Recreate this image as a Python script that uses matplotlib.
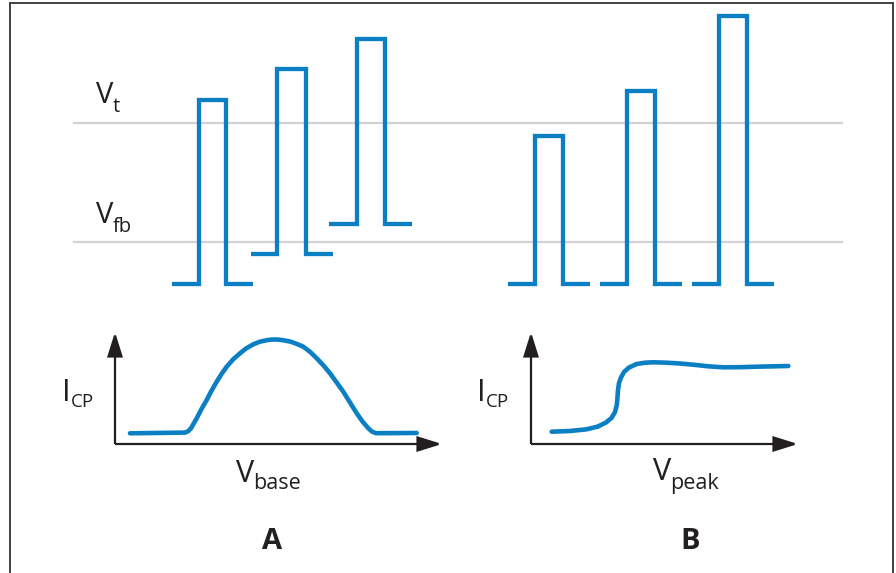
import matplotlib
matplotlib.use("Agg")
import matplotlib.pyplot as plt
from matplotlib.patches import FancyArrowPatch

# --- data (in pixel units of the 896x573 figure) ---
# pulses: (start, rise, fall, end, base level, top level)
pulses_a = [
    (172, 199, 226, 253, 284, 99.5),
    (251, 277, 305.5, 333, 254, 69),
    (329, 357, 384.5, 412, 223.5, 39),
]
pulses_b = [
    (508, 535, 563, 590, 284, 136),
    (600, 627, 655, 682, 284, 90.5),
    (692, 719, 747, 774, 284, 16),
]
level_vt = 123
level_vfb = 242

# I_CP vs V_base (bell-shaped)
curve_a_x = [130, 185, 188, 191, 196.7, 201.5, 206.7, 211.5, 216.7, 221.5, 226.7,
             233, 240, 246, 253.3, 259.5, 266.7, 271.5, 276.7, 282, 290, 296.5,
             303.3, 310, 316.7, 323.5, 330, 336.5, 343.3, 350, 356.7, 362.5,
             368.3, 372, 376, 416.7]
curve_a_y = [433.3, 432.6, 431.3, 428.3, 418.3, 409, 400, 390.7, 381.7, 374, 366.7,
             359.5, 353.3, 348.5, 344.3, 341.8, 340.2, 339.6, 339.5, 340, 341.5, 343.8,
             346.7, 351.8, 358.3, 365.5, 373.3, 382.3, 391.7, 402.5, 413.3, 421.5,
             428.3, 431.6, 433.2, 433]
# I_CP vs V_peak (step-like)
curve_b_x = [551.7, 570, 586.7, 598, 606, 611.5, 615, 616.8, 617.5, 618, 619, 621,
             624, 629, 636.7, 645, 653.3, 666.7, 680, 693.3, 708, 723.3, 740, 756.7, 788.3]
curve_b_y = [431.7, 431, 429.3, 426.5, 422.5, 418, 412, 405, 397, 390, 383, 377.5,
             372, 367.5, 364, 362.7, 362.3, 362.7, 363.5, 364.7, 366.3, 367.3, 367.2, 366.7, 366]

blue = "#0a7fc4"
gray = "#d2d2d2"
dark = "#231f20"
font = "Open Sans"

fig = plt.figure(figsize=(8.96, 5.73), dpi=100)
ax = fig.add_axes([0, 0, 1, 1])
ax.set_xlim(0, 896)
ax.set_ylim(573, 0)
ax.axis("off")
renderer = fig.canvas.get_renderer()

# frame
ax.plot([10, 10, 893, 893], [573, 3, 3, 573], color="#333333", lw=1.3,
        solid_joinstyle="miter")

# reference levels
ax.plot([74, 842], [level_vt, level_vt], color=gray, lw=1.6, zorder=1)
ax.plot([74, 842], [level_vfb, level_vfb], color=gray, lw=1.6, zorder=1)

# pulse trains
for p in pulses_a + pulses_b:
    start, rise, fall, end, base, top = p
    ax.plot([start, rise, rise, fall, fall, end],
            [base, base, top, top, base, base],
            color=blue, lw=3.1, solid_capstyle="butt",
            solid_joinstyle="miter", zorder=3)

# little I-V plots
for ox, xtip in [(115, 442), (531, 798)]:
    for tip in [(ox, 332), (xtip, 444)]:
        arr = FancyArrowPatch((ox, 444), tip,
                              arrowstyle="-|>,head_length=1.15,head_width=0.36",
                              mutation_scale=13, color=dark, lw=1.6,
                              shrinkA=0, shrinkB=0, joinstyle="miter",
                              capstyle="butt")
        ax.add_patch(arr)

ax.plot(curve_a_x, curve_a_y, color=blue, lw=3.3, solid_capstyle="round",
        solid_joinstyle="round", zorder=3)
ax.plot(curve_b_x, curve_b_y, color=blue, lw=3.3, solid_capstyle="round",
        solid_joinstyle="round", zorder=3)


# labels: main letter, then subscript placed right after its drawn width
def label(x, y, main, sub, dy, size, subsize, gap=-1.0):
    t = ax.text(x, y, main, fontsize=size, family=font, color=dark,
                ha="left", va="baseline")
    bb = t.get_window_extent(renderer)
    ax.text(bb.x1 + gap, y + dy, sub, fontsize=subsize, family=font,
            color=dark, ha="left", va="baseline")


label(96, 103.3, "V", "t", 8.4, 21, 14.5)
label(96, 223.3, "V", "fb", 8.4, 21, 14.5)
label(62, 401, "I", "CP", 5.7, 22.5, 13.5, gap=0.5)
label(477, 401, "I", "CP", 5.7, 22.5, 13.5, gap=0.5)
label(236, 481.7, "V", "base", 7.6, 22, 15.5)
label(653, 480.5, "V", "peak", 8, 22, 15.5)

ax.text(272.5, 549.3, "A", fontsize=21, family=font, weight="bold",
        color=dark, ha="center", va="baseline")
ax.text(690.5, 549.3, "B", fontsize=21, family=font, weight="bold",
        color=dark, ha="center", va="baseline")

fig.savefig("out.png", dpi=100)
